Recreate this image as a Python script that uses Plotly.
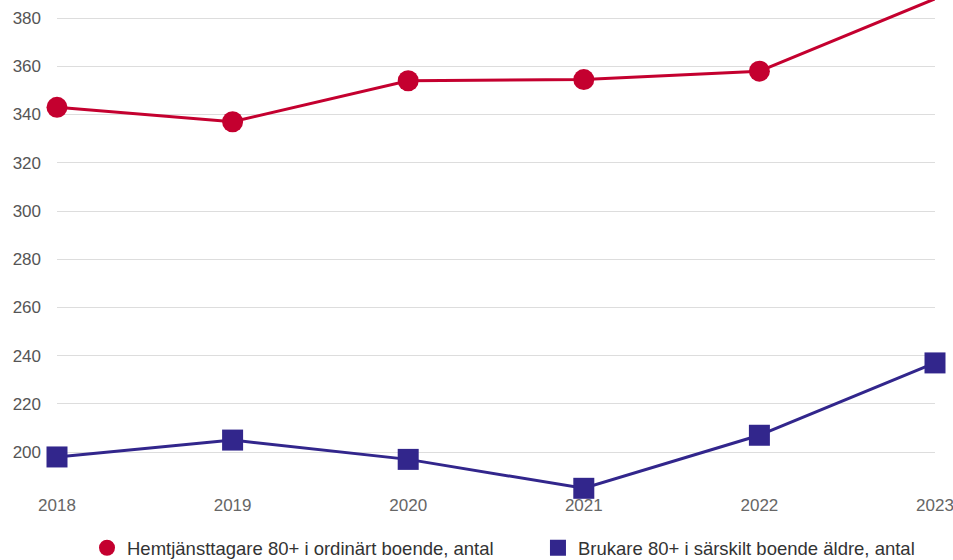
import plotly.graph_objects as go

years = ["2018", "2019", "2020", "2021", "2022", "2023"]
hemtjanst = [343, 337, 354, 354.5, 358, 388]
sarskilt = [198, 205, 197, 185, 207, 237]

name_red = "Hemtjänsttagare 80+ i ordinärt boende, antal"
name_blue = "Brukare 80+ i särskilt boende äldre, antal"
RED = "#C4002F"
BLUE = "#32268C"

fig = go.Figure()
fig.add_trace(go.Scatter(x=years, y=sarskilt, mode="lines+markers", name=name_blue,
                         line=dict(color=BLUE, width=3),
                         marker=dict(symbol="square", size=21, color=BLUE),
                         showlegend=False, cliponaxis=False))
fig.add_trace(go.Scatter(x=years, y=hemtjanst, mode="lines+markers", name=name_red,
                         line=dict(color=RED, width=3),
                         marker=dict(symbol="circle", size=21, color=RED),
                         showlegend=False, cliponaxis=False))
# legend entries (markers only)
fig.add_trace(go.Scatter(x=[None], y=[None], mode="markers", name=name_red,
                         marker=dict(symbol="circle", size=20, color=RED), legend="legend"))
fig.add_trace(go.Scatter(x=[None], y=[None], mode="markers", name=name_blue,
                         marker=dict(symbol="square", size=20, color=BLUE), legend="legend2"))

leg_common = dict(orientation="h", xanchor="left", xref="container",
                  yref="container", y=0.021, yanchor="middle",
                  font=dict(size=18.5, color="#333333"), itemsizing="trace",
                  bgcolor="rgba(0,0,0,0)")

fig.update_layout(
    width=953, height=560,
    margin=dict(l=57, r=18, t=0, b=70, autoexpand=False),
    paper_bgcolor="white", plot_bgcolor="white",
    font=dict(family="Liberation Sans, Arial, sans-serif", color="#555555", size=17),
    showlegend=True,
    legend=dict(x=0.0913, **leg_common),
    legend2=dict(x=0.5645, **leg_common),
)
fig.update_xaxes(type="category", range=[0, 5], showgrid=False, zeroline=False,
                 showline=False, ticks="", tickfont=dict(size=17, color="#666666"),
                 ticklabelstandoff=3)
fig.update_yaxes(range=[184.3, 387.5], tickvals=[200, 220, 240, 260, 280, 300, 320, 340, 360, 380],
                 showgrid=True, gridcolor="#DDDDDD", gridwidth=1, zeroline=False,
                 showline=False, ticks="", tickfont=dict(size=17, color="#555555"),
                 ticklabelstandoff=15)

fig.write_html("out.html")
